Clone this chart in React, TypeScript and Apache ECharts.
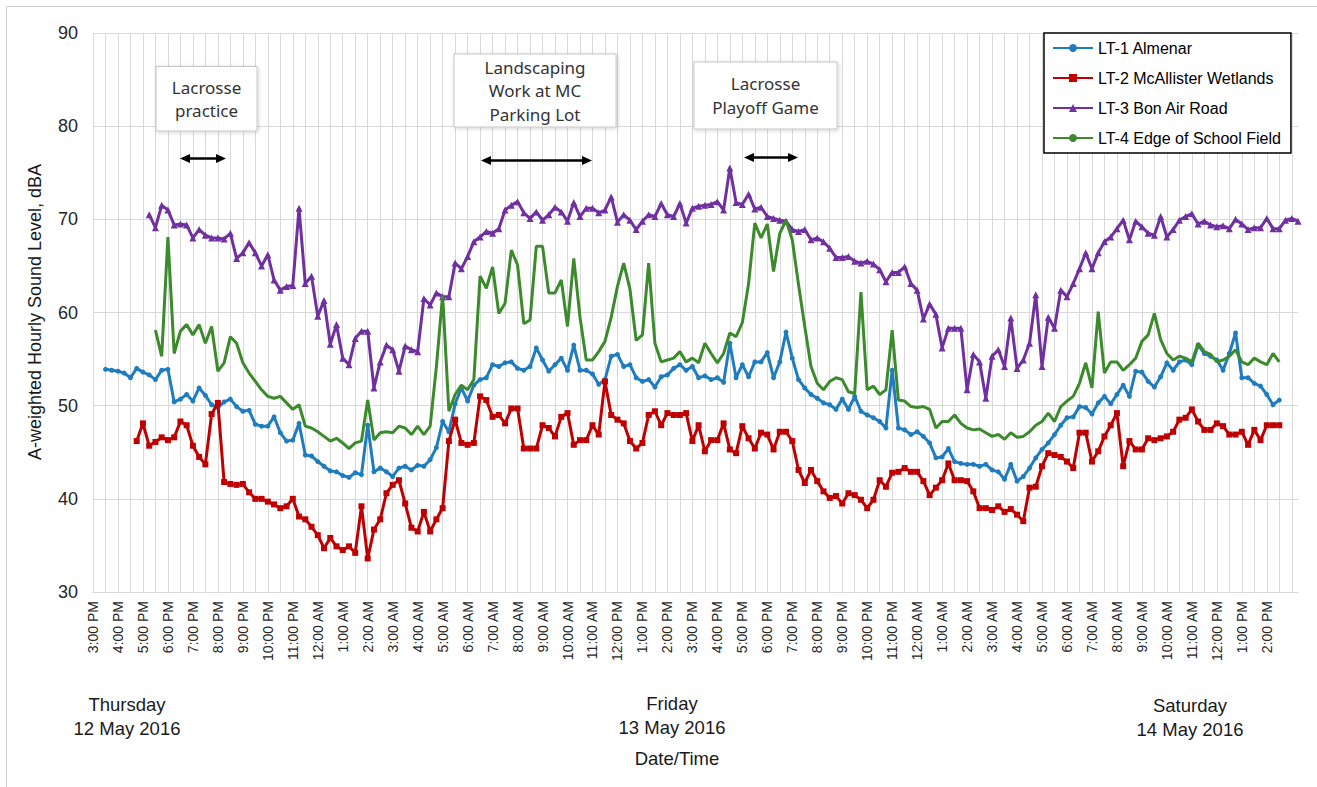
import React, { useEffect, useRef } from "react";
import * as echarts from "echarts";

// Hour tick labels (3:00 PM Thu 12 May 2016 ... 3:00 PM Sat 14 May 2016)
const HOUR_LABELS = [
  "3:00 PM", "4:00 PM", "5:00 PM", "6:00 PM", "7:00 PM", "8:00 PM", "9:00 PM", "10:00 PM", "11:00 PM",
  "12:00 AM", "1:00 AM", "2:00 AM", "3:00 AM", "4:00 AM", "5:00 AM", "6:00 AM", "7:00 AM", "8:00 AM",
  "9:00 AM", "10:00 AM", "11:00 AM", "12:00 PM", "1:00 PM", "2:00 PM", "3:00 PM", "4:00 PM", "5:00 PM",
  "6:00 PM", "7:00 PM", "8:00 PM", "9:00 PM", "10:00 PM", "11:00 PM", "12:00 AM", "1:00 AM", "2:00 AM",
  "3:00 AM", "4:00 AM", "5:00 AM", "6:00 AM", "7:00 AM", "8:00 AM", "9:00 AM", "10:00 AM", "11:00 AM",
  "12:00 PM", "1:00 PM", "2:00 PM", "3:00 PM",
];
const QUARTERS = [":00", ":15", ":30", ":45"];
const N_SLOTS = 194; // 15-minute slots, 3:00 PM Thu .. 3:15 PM Sat
const LAST_LABELED_SLOT = 188; // 2:00 PM Saturday

const SERIES_NAMES = [
  "LT-1 Almenar",
  "LT-2 McAllister Wetlands",
  "LT-3 Bon Air Road",
  "LT-4 Edge of School Field",
];

// LT-1 Almenar, 15-minute values starting at slot 2 (3:30 PM Thu)
const LT1_START = 2;
const LT1 = [
  53.9, 53.8, 53.7, 53.5, 53.0, 54.0, 53.6, 53.3, 52.8, 53.8, 53.9, 50.4, 50.7, 51.2, 50.5, 51.9,
  51.1, 50.1, 49.8, 50.4, 50.7, 49.9, 49.4, 49.5, 48.0, 47.8, 47.8, 48.8, 47.1, 46.2, 46.3, 48.1,
  44.7, 44.6, 44.0, 43.5, 43.0, 42.9, 42.5, 42.3, 42.8, 42.6, 47.9, 42.9, 43.3, 42.9, 42.4, 43.3,
  43.5, 43.1, 43.6, 43.5, 44.2, 45.5, 48.3, 47.2, 50.2, 51.9, 50.5, 52.2, 52.8, 53.0, 54.4, 54.2,
  54.6, 54.7, 54.0, 53.8, 54.2, 56.2, 54.9, 53.7, 54.4, 55.1, 53.8, 56.5, 53.8, 53.8, 53.4, 52.3,
  52.8, 55.3, 55.5, 54.2, 54.4, 53.0, 52.6, 52.8, 52.0, 53.1, 53.3, 54.0, 54.4, 53.8, 54.2, 53.0,
  53.2, 52.8, 53.0, 52.5, 56.7, 53.0, 54.4, 53.1, 54.7, 54.7, 55.7, 53.0, 54.7, 57.9, 55.1, 52.8,
  51.9, 51.2, 50.8, 50.3, 50.1, 49.6, 50.7, 49.6, 51.0, 49.4, 49.0, 48.7, 48.3, 47.6, 53.8, 47.6,
  47.4, 46.9, 47.2, 46.7, 46.0, 44.4, 44.5, 45.4, 44.0, 43.8, 43.7, 43.7, 43.5, 43.7, 43.1, 42.9,
  42.1, 43.7, 41.9, 42.4, 43.3, 44.4, 45.3, 46.0, 46.9, 47.9, 48.7, 48.8, 49.9, 49.8, 49.1, 50.3,
  51.0, 50.2, 51.2, 52.2, 51.0, 53.7, 53.6, 52.6, 52.0, 53.1, 54.6, 53.8, 54.7, 54.9, 54.4, 56.5,
  55.6, 55.3, 54.9, 53.8, 55.6, 57.8, 53.0, 53.0, 52.4, 52.1, 51.2, 50.1, 50.6,
];

// LT-2 McAllister Wetlands, starting at slot 7 (4:45 PM Thu)
const LT2_START = 7;
const LT2 = [
  46.2, 48.1, 45.7, 46.1, 46.6, 46.3, 46.6, 48.3, 47.9, 45.7, 44.5, 43.7, 49.1, 50.3, 41.8, 41.6,
  41.5, 41.6, 40.7, 40.0, 40.0, 39.7, 39.4, 39.0, 39.2, 40.0, 38.1, 37.8, 37.0, 36.1, 34.7, 35.8,
  34.9, 34.5, 34.9, 34.2, 39.2, 33.6, 36.7, 37.8, 40.6, 41.5, 42.0, 39.5, 36.9, 36.5, 38.6, 36.5,
  37.8, 39.0, 46.2, 48.5, 46.0, 45.8, 46.0, 51.0, 50.6, 48.8, 49.0, 48.1, 49.7, 49.7, 45.4, 45.4,
  45.4, 47.9, 47.6, 46.7, 48.8, 49.2, 45.8, 46.3, 46.3, 47.9, 46.9, 52.6, 49.0, 48.5, 48.1, 46.2,
  45.4, 46.0, 49.0, 49.4, 47.9, 49.2, 49.0, 49.0, 49.2, 46.2, 47.9, 45.1, 46.3, 46.3, 48.1, 45.3,
  44.9, 47.8, 46.5, 45.4, 47.1, 46.9, 45.3, 47.2, 47.2, 46.2, 43.1, 41.7, 43.1, 41.9, 40.8, 40.1,
  40.3, 39.5, 40.6, 40.4, 39.9, 39.0, 39.9, 42.0, 41.3, 42.8, 42.9, 43.3, 42.9, 42.9, 41.9, 40.4,
  41.2, 42.0, 43.8, 42.0, 42.0, 41.9, 40.8, 39.0, 39.0, 38.8, 39.2, 38.6, 38.9, 38.3, 37.6, 41.2,
  41.3, 43.5, 44.9, 44.7, 44.5, 44.0, 43.3, 47.1, 47.1, 44.0, 45.1, 46.7, 47.9, 49.2, 43.5, 46.2,
  45.3, 45.3, 46.5, 46.3, 46.5, 46.7, 47.2, 48.5, 48.7, 49.6, 48.3, 47.4, 47.4, 48.1, 47.8, 46.9,
  46.9, 47.2, 45.8, 47.4, 46.3, 47.9, 47.9, 47.9,
];

// LT-3 Bon Air Road, starting at slot 9 (5:15 PM Thu)
const LT3_START = 9;
const LT3 = [
  70.5, 69.1, 71.5, 71.0, 69.4, 69.5, 69.4, 68.0, 68.9, 68.3, 68.0, 68.0, 67.9, 68.5, 65.8, 66.4,
  67.5, 66.4, 65.0, 66.2, 63.5, 62.4, 62.8, 62.9, 71.2, 63.1, 63.9, 59.6, 61.3, 56.6, 58.7, 55.1,
  54.4, 57.2, 58.0, 58.0, 51.9, 54.7, 56.5, 56.0, 53.7, 56.4, 56.0, 55.8, 61.5, 60.8, 62.1, 61.7,
  61.7, 65.3, 64.7, 66.0, 67.6, 68.1, 68.7, 68.5, 69.0, 71.0, 71.5, 71.9, 70.7, 70.1, 70.8, 69.9,
  70.5, 71.3, 70.8, 69.8, 71.8, 70.3, 71.2, 71.2, 70.7, 71.0, 72.4, 69.7, 70.5, 69.9, 68.9, 69.8,
  70.5, 70.3, 71.7, 70.5, 70.3, 71.7, 69.6, 71.2, 71.4, 71.5, 71.6, 71.9, 71.0, 75.5, 71.8, 71.6,
  72.7, 71.1, 71.3, 70.3, 70.1, 69.9, 69.8, 68.9, 68.7, 68.9, 67.8, 68.0, 67.6, 66.9, 65.9, 65.9,
  66.0, 65.5, 65.3, 65.5, 65.2, 64.6, 63.3, 64.3, 64.3, 64.9, 63.1, 62.4, 59.3, 60.9, 59.8, 56.2,
  58.3, 58.3, 58.3, 51.7, 55.5, 54.7, 50.8, 55.3, 56.0, 54.2, 59.4, 54.0, 54.9, 56.7, 61.9, 54.2,
  59.5, 58.3, 62.4, 61.7, 63.1, 64.7, 66.4, 64.7, 66.4, 67.6, 68.1, 69.0, 69.9, 67.8, 69.8, 69.2,
  68.5, 68.3, 70.3, 68.1, 68.9, 69.9, 70.3, 70.6, 69.5, 69.8, 69.4, 69.2, 69.3, 69.0, 70.0, 69.5,
  68.9, 69.1, 69.1, 70.1, 69.0, 69.0, 69.9, 70.1, 69.8,
];

// LT-4 Edge of School Field, starting at slot 10 (5:30 PM Thu)
const LT4_START = 10;
const LT4 = [
  58.1, 55.3, 68.1, 55.6, 58.0, 58.7, 57.6, 58.7, 56.7, 58.5, 53.7, 54.6, 57.4, 56.7, 54.6, 53.5,
  52.6, 51.7, 51.0, 50.8, 51.0, 50.3, 49.6, 50.1, 47.8, 47.6, 47.2, 46.7, 46.2, 46.5, 46.0, 45.4,
  46.0, 46.2, 50.6, 46.3, 47.1, 47.2, 47.1, 47.8, 47.6, 46.9, 47.8, 46.9, 47.8, 54.2, 61.9, 49.4,
  51.2, 52.2, 51.7, 52.8, 63.9, 62.6, 64.9, 59.9, 61.0, 66.7, 65.1, 58.8, 59.2, 67.1, 67.1, 62.1,
  62.1, 63.5, 58.5, 65.8, 59.5, 54.9, 54.9, 55.8, 56.9, 59.5, 62.8, 65.3, 62.5, 57.0, 57.6, 65.3,
  56.7, 54.7, 54.9, 55.1, 55.8, 54.7, 55.1, 54.6, 56.7, 55.6, 54.6, 55.6, 57.8, 57.4, 58.9, 63.1,
  69.6, 68.0, 69.5, 64.4, 68.5, 69.9, 67.8, 63.0, 58.5, 54.2, 52.4, 51.7, 52.6, 53.0, 52.8, 51.5,
  51.3, 62.2, 51.7, 52.1, 51.2, 51.7, 58.1, 50.6, 50.5, 49.9, 49.8, 49.9, 49.6, 47.6, 48.3, 48.3,
  49.0, 48.1, 47.6, 47.4, 47.5, 47.1, 46.7, 46.9, 46.4, 47.1, 46.6, 46.7, 47.2, 47.9, 48.3, 49.2,
  48.3, 49.9, 50.5, 51.0, 52.4, 54.6, 51.9, 60.1, 53.5, 54.7, 54.7, 53.8, 54.4, 55.1, 56.9, 57.6,
  59.9, 57.1, 55.6, 54.9, 55.3, 55.1, 54.7, 56.7, 55.8, 55.5, 54.7, 54.9, 55.3, 56.0, 54.7, 54.4,
  55.1, 54.7, 54.4, 55.6, 54.7,
];

const COLORS = ["#1F7DBF", "#C00000", "#7030A0", "#3B8A2B"];
const FONT = "'Liberation Sans', Arial, sans-serif";
const NOTE_FONT = "'Noto Sans', 'Open Sans', sans-serif";
const GRID_COLOR = "#D9D9D9";
const TOP_Z = 100;

function pad(start: number, values: number[]): (number | null)[] {
  const out: (number | null)[] = [];
  for (let i = 0; i < start; i++) out.push(null);
  return out.concat(values);
}

function buildCategories(): string[] {
  const cats: string[] = [];
  for (let i = 0; i < N_SLOTS; i++) {
    const h = HOUR_LABELS[Math.floor(i / 4)];
    cats.push(h.replace(":00", QUARTERS[i % 4]));
  }
  return cats;
}

function arrow(x1: number, x2: number, y: number) {
  const head = 10;
  const hw = 4.5;
  return [
    {
      type: "line",
      z: TOP_Z,
      shape: { x1: x1 + 4, y1: y, x2: x2 - 4, y2: y },
      style: { stroke: "#000", lineWidth: 2.5 },
    },
    {
      type: "polygon",
      z: TOP_Z,
      shape: { points: [[x1, y], [x1 + head, y - hw], [x1 + head, y + hw]] },
      style: { fill: "#000" },
    },
    {
      type: "polygon",
      z: TOP_Z,
      shape: { points: [[x2, y], [x2 - head, y - hw], [x2 - head, y + hw]] },
      style: { fill: "#000" },
    },
  ];
}

function noteBox(x: number, y: number, w: number, h: number, text: string) {
  return [
    {
      type: "rect",
      z: TOP_Z,
      shape: { x, y, width: w, height: h },
      style: {
        fill: "#fff",
        stroke: "#C8C8C8",
        lineWidth: 1,
        shadowBlur: 4,
        shadowColor: "rgba(0,0,0,0.18)",
        shadowOffsetX: 1,
        shadowOffsetY: 1,
      },
    },
    {
      type: "text",
      z: TOP_Z + 1,
      x: x + w / 2,
      y: y + h / 2,
      style: {
        text,
        fill: "#333333",
        font: `17px ${NOTE_FONT}`,
        align: "center",
        verticalAlign: "middle",
        lineHeight: 23.5,
      },
    },
  ];
}

function label(x: number, y: number, text: string) {
  return {
    type: "text",
    z: TOP_Z,
    x,
    y,
    style: {
      text,
      fill: "#1a1a1a",
      font: `18.5px ${FONT}`,
      align: "center",
      verticalAlign: "middle",
      lineHeight: 24,
    },
  };
}

export default function App() {
  const ref = useRef<HTMLDivElement>(null);

  useEffect(() => {
    if (!ref.current) return;
    const chart = echarts.init(ref.current, null, { renderer: "svg" });
    const categories = buildCategories();

    const lineSeries = [
      { data: pad(LT1_START, LT1), symbol: "circle", symbolSize: 5 },
      { data: pad(LT2_START, LT2), symbol: "rect", symbolSize: 6 },
      { data: pad(LT3_START, LT3), symbol: "triangle", symbolSize: 7 },
      { data: pad(LT4_START, LT4), symbol: "none", symbolSize: 0 },
    ].map((s, i) => ({
      name: SERIES_NAMES[i],
      type: "line",
      data: s.data,
      symbol: s.symbol,
      symbolSize: s.symbolSize,
      showSymbol: s.symbol !== "none",
      showAllSymbol: true,
      connectNulls: false,
      lineStyle: { color: COLORS[i], width: 3 },
      itemStyle: { color: COLORS[i], borderWidth: 0 },
      emphasis: { disabled: true },
      z: 2 + i,
    }));

    const option = {
      animation: false,
      backgroundColor: "#fff",
      grid: { left: 93, right: 19, top: 33, bottom: 195, containLabel: false },
      xAxis: {
        type: "category",
        data: categories,
        boundaryGap: false,
        axisTick: { show: false },
        axisLine: { show: true, lineStyle: { color: GRID_COLOR, width: 1 } },
        splitLine: {
          show: true,
          interval: (index: number) => index % 2 === 0,
          lineStyle: { color: GRID_COLOR, width: 1 },
        },
        axisLabel: {
          interval: (index: number) => index % 4 === 0 && index <= LAST_LABELED_SLOT,
          rotate: 90,
          margin: 9,
          fontSize: 14,
          fontFamily: FONT,
          color: "#262626",
        },
      },
      yAxis: {
        type: "value",
        min: 30,
        max: 90,
        interval: 10,
        axisLine: { show: false },
        axisTick: { show: false },
        splitLine: { show: true, lineStyle: { color: GRID_COLOR, width: 1 } },
        axisLabel: { fontSize: 18, fontFamily: FONT, color: "#262626", margin: 15 },
      },
      legend: {
        data: SERIES_NAMES,
        orient: "vertical",
        left: 1044,
        top: 33,
        itemWidth: 40,
        itemHeight: 10,
        itemGap: 14,
        padding: [7, 10, 7, 8],
        borderColor: "#000",
        borderWidth: 1.5,
        backgroundColor: "#fff",
        selectedMode: false,
        textStyle: { fontSize: 16, fontFamily: FONT, color: "#000" },
      },
      graphic: [
        {
          type: "rect",
          shape: { x: 6.5, y: 6.5, width: 1330, height: 800 },
          style: { fill: "none", stroke: "#D0D0D0", lineWidth: 1 },
          silent: true,
          z: -10,
        },
        {
          type: "text",
          z: TOP_Z,
          x: 35,
          y: 312,
          rotation: Math.PI / 2,
          style: {
            text: "A-weighted Hourly Sound Level, dBA",
            fill: "#1a1a1a",
            font: `18px ${FONT}`,
            align: "center",
            verticalAlign: "middle",
          },
        },
        label(127, 716, "Thursday\n12 May 2016"),
        label(672, 715, "Friday\n13 May 2016"),
        label(1190, 717, "Saturday\n14 May 2016"),
        label(677, 758, "Date/Time"),
        ...noteBox(156, 66.5, 101, 64.5, "Lacrosse\npractice"),
        ...noteBox(454, 54, 162, 73, "Landscaping\nWork at MC\nParking Lot"),
        ...noteBox(694, 62, 143, 67, "Lacrosse\nPlayoff Game"),
        ...arrow(180, 226, 158.5),
        ...arrow(481, 592, 160.5),
        ...arrow(744, 798, 157.5),
      ],
      series: lineSeries,
    };

    chart.setOption(option as any);
    return () => chart.dispose();
  }, []);

  return (
    <div
      ref={ref}
      style={{ position: "fixed", left: 0, top: 0, width: 1317, height: 787, background: "#fff" }}
    />
  );
}
